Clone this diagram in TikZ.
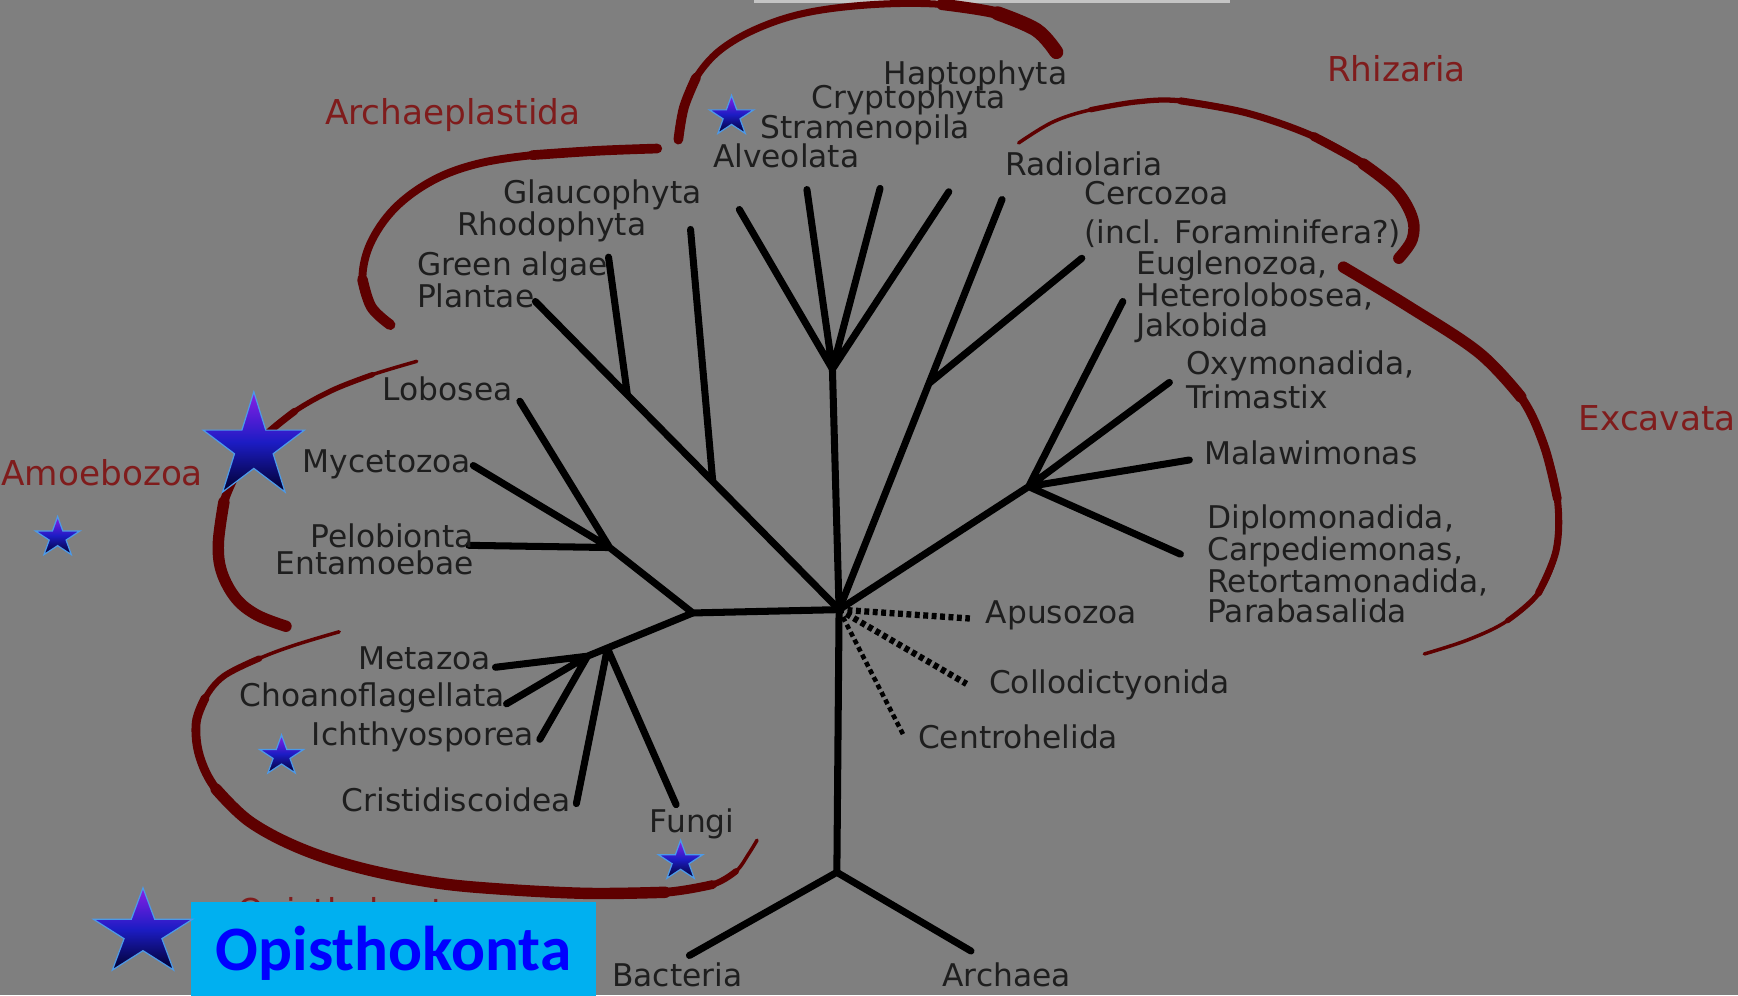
\documentclass[tikz,border=0pt]{standalone}
\usepackage{fontspec}
\setmainfont{DejaVu Sans}
\newfontfamily\calib{Carlito}
\usepackage{tikz}
\usetikzlibrary{shapes,arrows.meta,positioning}

\definecolor{bggray}{HTML}{7F7F7F}
\definecolor{topbar}{HTML}{C4C4C4}
\definecolor{txtgray}{HTML}{1E1E1E}
\definecolor{brkred}{HTML}{5E0000}
\definecolor{grpred}{HTML}{7F1C1C}
\definecolor{boxcyan}{HTML}{00B0F0}
\definecolor{starline}{HTML}{4C9AE8}
\definecolor{startop}{HTML}{8A1FE6}
\definecolor{starmid}{HTML}{1C1CC4}
\definecolor{starbot}{HTML}{00002E}

\tikzset{
  taxon/.style={font=\fontsize{17.8}{17}\selectfont, text=txtgray, inner sep=0pt, anchor=west, text height=13pt, text depth=0pt},
  taxa/.style={font=\fontsize{17.8}{17}\selectfont, text=txtgray, inner sep=0pt, anchor=north west, align=left},
  group/.style={font=\fontsize{19.5}{20}\selectfont, text=grpred, inner sep=0pt, anchor=west, text height=14.2pt, text depth=0pt},
  branch/.style={line width=4pt, line cap=round, line join=round},
  uncertain/.style={line width=3.6pt, dash pattern=on 2.8pt off 2pt},
  clade/.style={draw=brkred, line width=#1, line cap=round},
  clade/.default=2pt,
  opibox/.style={fill=boxcyan, text=blue, font=\calib\bfseries\fontsize{36}{36}\selectfont, minimum width=8.09cm, minimum height=1.907cm, inner sep=0pt, text height=23.2pt, text depth=0pt},
  bstar/.pic={
    \shadedraw[draw=starline, line width=0.7pt, top color=startop, bottom color=starbot, middle color=starmid]
      (270:1) -- (306:0.382) -- (342:1) -- (18:0.382) -- (54:1) -- (90:0.382)
      -- (126:1) -- (162:0.382) -- (198:1) -- (234:0.382) -- cycle;
  }
}

\begin{document}
\begin{tikzpicture}[x=0.02217cm, y=-0.02217cm]
  \useasboundingbox (0,0) rectangle (1568,898);
  \fill[bggray] (0,0) rectangle (1568,898);
  \fill[topbar] (680,0) rectangle (1110,2.7);

  % clade brackets
  \draw[clade=4pt] plot[smooth, tension=0.6] coordinates {(612,126) (617,97) (628,70) (650,45) (685,25) (730,11) (790,4) (850,4) (900,12) (935,27) (953,47)};
  \draw[clade=5.5pt] plot[smooth, tension=0.6] coordinates {(612,126) (617,97) (628,70)};
  \draw[clade=6.5pt] plot[smooth, tension=0.6] coordinates {(850,4) (900,12) (935,27) (953,47)};
  \draw[clade=8pt] plot[smooth, tension=0.6] coordinates {(900,12) (935,27) (953,47)};

  \draw[clade=4.5pt] plot[smooth, tension=0.6] coordinates {(593,134) (540,136) (480,140) (430,148) (390,163) (356,188) (334,220) (327,252) (335,277) (352,293)};
  \draw[clade=5.5pt] plot[smooth, tension=0.6] coordinates {(593,134) (540,136) (480,140)};
  \draw[clade=6pt] plot[smooth, tension=0.6] coordinates {(327,252) (335,277) (352,293)};

  \draw[clade] plot[smooth, tension=0.6] coordinates {(919,129) (950,110) (984,99) (1025,92) (1065,91) (1125,102) (1185,123) (1230,148) (1259,171) (1274,196) (1274,216) (1262,233)};
  \draw[clade=3pt] plot[smooth, tension=0.6] coordinates {(984,99) (1025,92) (1065,91) (1125,102) (1185,123) (1230,148) (1259,171) (1274,196) (1274,216) (1262,233)};
  \draw[clade=4pt] plot[smooth, tension=0.6] coordinates {(1065,91) (1125,102) (1185,123) (1230,148) (1259,171) (1274,196) (1274,216) (1262,233)};
  \draw[clade=5pt] plot[smooth, tension=0.6] coordinates {(1185,123) (1230,148) (1259,171) (1274,196) (1274,216) (1262,233)};
  \draw[clade=6.5pt] plot[smooth, tension=0.6] coordinates {(1230,148) (1259,171) (1274,196) (1274,216) (1262,233)};

  \draw[clade] plot[smooth, tension=0.6] coordinates {(1212,241) (1270,276) (1334,318) (1372,358) (1393,402) (1405,450) (1404,496) (1388,535) (1360,560) (1325,577) (1285,590)};
  \draw[clade=3pt] plot[smooth, tension=0.6] coordinates {(1212,241) (1270,276) (1334,318) (1372,358) (1393,402) (1405,450) (1404,496) (1388,535) (1360,560)};
  \draw[clade=4pt] plot[smooth, tension=0.6] coordinates {(1212,241) (1270,276) (1334,318) (1372,358) (1393,402) (1405,450) (1404,496) (1388,535)};
  \draw[clade=5pt] plot[smooth, tension=0.6] coordinates {(1212,241) (1270,276) (1334,318) (1372,358) (1393,402) (1405,450)};
  \draw[clade=6.5pt] plot[smooth, tension=0.6] coordinates {(1212,241) (1270,276) (1334,318) (1372,358)};

  \draw[clade] plot[smooth, tension=0.6] coordinates {(376,326) (336,338) (300,352) (266,371) (238,394) (216,421) (202,453) (197,490) (200,516) (213,540) (232,555) (258,565)};
  \draw[clade=3pt] plot[smooth, tension=0.6] coordinates {(336,338) (300,352) (266,371) (238,394) (216,421) (202,453) (197,490) (200,516) (213,540) (232,555) (258,565)};
  \draw[clade=4pt] plot[smooth, tension=0.6] coordinates {(266,371) (238,394) (216,421) (202,453) (197,490) (200,516) (213,540) (232,555) (258,565)};
  \draw[clade=5pt] plot[smooth, tension=0.6] coordinates {(216,421) (202,453) (197,490) (200,516) (213,540) (232,555) (258,565)};
  \draw[clade=6.5pt] plot[smooth, tension=0.6] coordinates {(202,453) (197,490) (200,516) (213,540) (232,555) (258,565)};

  \draw[clade] plot[smooth, tension=0.6] coordinates {(306,570) (266,582) (234,594) (202,610) (185,630) (177,652) (180,682) (195,712) (225,741) (270,765) (325,783) (390,796) (450,802) (530,806) (600,805) (643,798) (664,786) (675,771) (683,758)};
  \draw[clade=3.5pt] plot[smooth, tension=0.6] coordinates {(234,594) (202,610) (185,630) (177,652) (180,682) (195,712) (225,741) (270,765) (325,783) (390,796) (450,802) (530,806) (600,805) (643,798) (664,786)};
  \draw[clade=5pt] plot[smooth, tension=0.6] coordinates {(185,630) (177,652) (180,682) (195,712) (225,741) (270,765) (325,783) (390,796) (450,802) (530,806) (600,805) (643,798)};
  \draw[clade=6.5pt] plot[smooth, tension=0.6] coordinates {(195,712) (225,741) (270,765) (325,783) (390,796) (450,802) (530,806) (600,805)};

  % tree
  \coordinate (hub) at (757,550);
  \coordinate (root) at (755,787);
  \coordinate (bac) at (622,862);
  \coordinate (arc) at (876,858);
  \coordinate (chr) at (751,333);
  \coordinate (alv) at (667,189);
  \coordinate (str) at (728,171);
  \coordinate (cry) at (794,170);
  \coordinate (hap) at (856,173);
  \coordinate (pla) at (483,272);
  \coordinate (gj) at (566,356);
  \coordinate (gre) at (549,232);
  \coordinate (rj) at (643,434);
  \coordinate (rho) at (623,207);
  \coordinate (rad) at (904,180);
  \coordinate (cj) at (838,346);
  \coordinate (cer) at (976,233);
  \coordinate (exc) at (928,439);
  \coordinate (eug) at (1013,272);
  \coordinate (oxy) at (1055,345);
  \coordinate (mal) at (1073,415);
  \coordinate (dip) at (1065,500);
  \coordinate (lj) at (625,553);
  \coordinate (amj) at (550,494);
  \coordinate (lob) at (469,362);
  \coordinate (myc) at (427,420);
  \coordinate (pel) at (423,492);
  \coordinate (opj) at (530,592);
  \coordinate (opj2) at (548,585);
  \coordinate (met) at (447,602);
  \coordinate (cho) at (457,635);
  \coordinate (ich) at (487,667);
  \coordinate (cri) at (520,725);
  \coordinate (fun) at (610,726);
  \coordinate (apu) at (875,558);
  \coordinate (col) at (872,617);
  \coordinate (cen) at (815,663);

  \draw[branch] (root) -- (hub) -- (chr);
  \draw[branch] (bac) -- (root) -- (arc);
  \draw[branch] (alv) -- (chr) -- (str) (cry) -- (chr) -- (hap);
  \draw[branch] (hub) -- (pla) (gj) -- (gre) (rj) -- (rho);
  \draw[branch] (hub) -- (rad) (cj) -- (cer);
  \draw[branch] (hub) -- (exc) -- (eug) (oxy) -- (exc) -- (mal) (exc) -- (dip);
  \draw[branch] (hub) -- (lj) -- (amj) -- (lob) (myc) -- (amj) -- (pel);
  \draw[branch] (lj) -- (opj) -- (met) (cho) -- (opj) -- (ich) (cri) -- (opj2) -- (fun);
  \draw[uncertain] (hub) -- (apu) (hub) -- (col);
  \draw[uncertain, line width=2.6pt] (hub) -- (cen);

  % taxa
  \node[taxon] (haptophyta) at (797,66) {Haptophyta};
  \node[taxon] (cryptophyta) at (732,88) {Cryptophyta};
  \node[taxon] (stramenopila) at (686,115) {Stramenopila};
  \node[taxon] (alveolata) at (643,141) {Alveolata};
  \node[taxon] (radiolaria) at (907,148) {Radiolaria};
  \node[taxa] (cercozoa) at (978,163.5) {Cercozoa\\[5pt](incl. Foraminifera?)};
  \node[taxa] (euglenozoa) at (1025,226) {Euglenozoa,\\Heterolobosea,\\Jakobida};
  \node[taxa] (oxymonadida) at (1070,316) {Oxymonadida,\\[1pt]Trimastix};
  \node[taxon] (malawimonas) at (1086,409) {Malawimonas};
  \node[taxa] (diplomonadida) at (1089,455) {Diplomonadida,\\Carpediemonas,\\Retortamonadida,\\Parabasalida};
  \node[taxon] (apusozoa) at (889,552) {Apusozoa};
  \node[taxon] (collodictyonida) at (892,615) {Collodictyonida};
  \node[taxon] (centrohelida) at (828,665) {Centrohelida};
  \node[taxon] (bacteria) at (552,880) {Bacteria};
  \node[taxon] (archaea) at (850,880) {Archaea};
  \node[taxon] (fungi) at (586,741) {Fungi};
  \node[taxon] (cristidiscoidea) at (308,722) {Cristidiscoidea};
  \node[taxon] (ichthyosporea) at (281,662) {Ichthyosporea};
  \node[taxon] (choanoflagellata) at (216,627) {Choanoflagellata};
  \node[taxon] (metazoa) at (323,594) {Metazoa};
  \node[taxa, anchor=north east, align=right] (pelobionta) at (428,472.5) {Pelobionta\\[-2pt]Entamoebae};
  \node[taxon] (mycetozoa) at (273,416) {Mycetozoa};
  \node[taxon] (lobosea) at (345,351) {Lobosea};
  \node[taxa] (greenalgae) at (376,227) {Green algae\\Plantae};
  \node[taxon] (rhodophyta) at (412,202) {Rhodophyta};
  \node[taxon] (glaucophyta) at (454,173) {Glaucophyta};

  % supergroups
  \node[group] (archaeplastida) at (293,101) {Archaeplastida};
  \node[group] (rhizaria) at (1197,62) {Rhizaria};
  \node[group] (excavata) at (1424,377) {Excavata};
  \node[group] (amoebozoa) at (1,427) {Amoebozoa};
  \node[group, anchor=base west] (opilabel) at (214,833) {Opisthokonta};

  \node[opibox] (opi) at (355,857) {Opisthokonta};

  % stars
  \pic[xscale=48, yscale=50] at (229,403.5) {bstar};
  \pic[xscale=47, yscale=41] at (129,842) {bstar};
  \pic[xscale=21, yscale=19] at (660,105) {bstar};
  \pic[xscale=21, yscale=19] at (52,485) {bstar};
  \pic[xscale=21, yscale=19] at (254,682) {bstar};
  \pic[xscale=21, yscale=19] at (614,777) {bstar};
\end{tikzpicture}
\end{document}
